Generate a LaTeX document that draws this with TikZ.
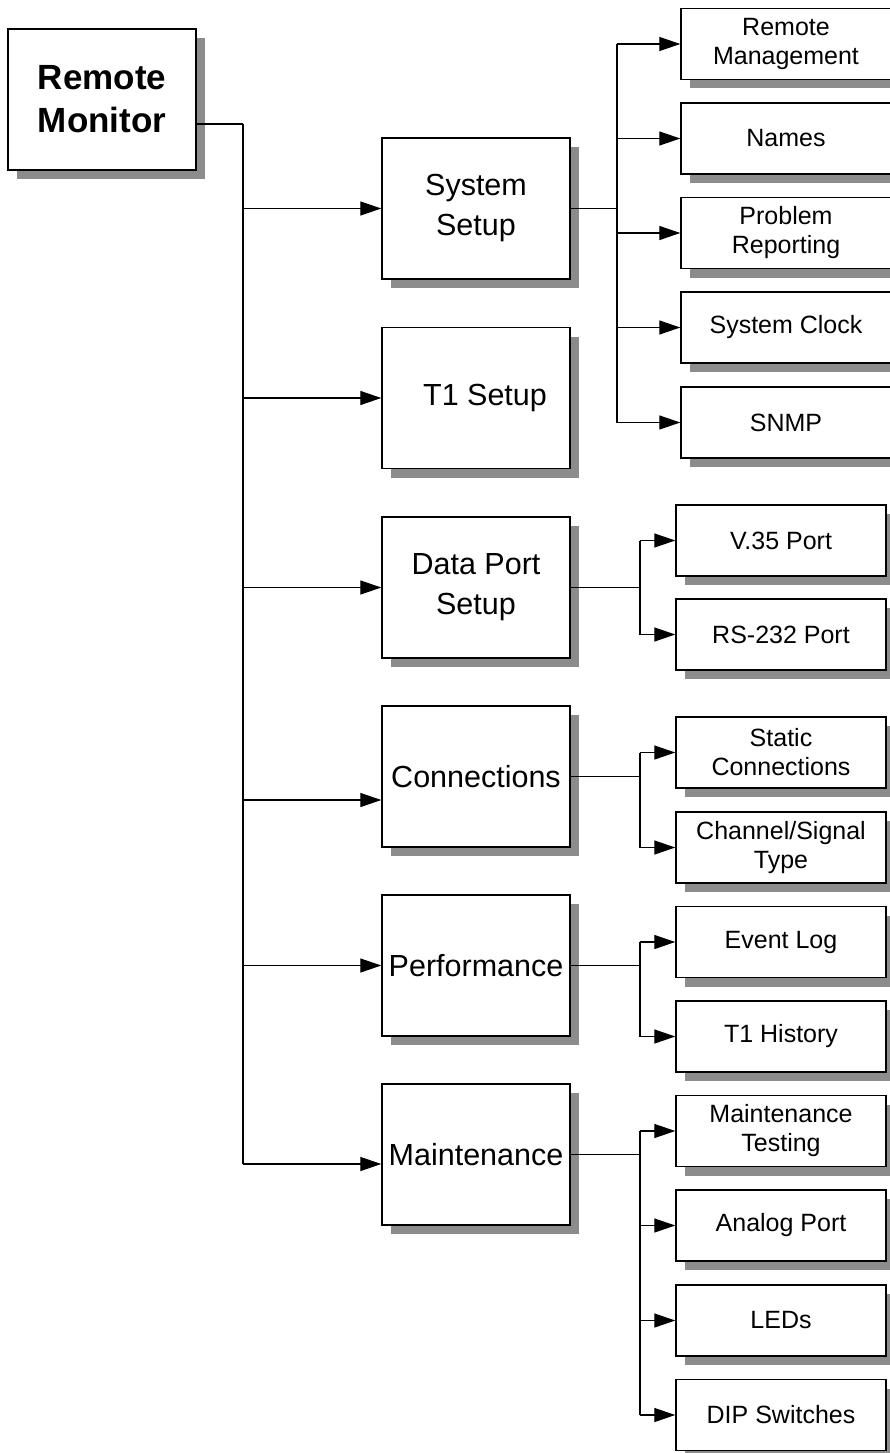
\documentclass[tikz,border=0pt]{standalone}
\usepackage{fontspec}
\setmainfont{Liberation Sans}
\usetikzlibrary{arrows.meta,shadows}
\definecolor{shgray}{RGB}{140,140,140}
\tikzset{
 box/.style={draw=black, line width=1.4pt, fill=white, inner sep=0pt, align=center,
   general shadow={fill=shgray, shadow xshift=9pt, shadow yshift=-9pt}},
 topbox/.style={box, minimum width=188pt, minimum height=141pt, font=\bfseries\fontsize{35}{43}\selectfont},
 midbox/.style={box, minimum width=188pt, minimum height=141pt, font=\fontsize{30.5}{40}\selectfont},
 subbox/.style={box, minimum width=210pt, minimum height=71pt, font=\fontsize{25}{29}\selectfont},
 trunk/.style={line width=2.8pt},
 conn/.style={line width=1.3pt},
 arr/.style={conn, -{Triangle[length=21pt 0 0,width=14pt 0 0]}},
}
\begin{document}
\begin{tikzpicture}[x=1pt,y=-1pt]
\useasboundingbox (0,0) rectangle (890,1453);
% top
\node[topbox] (rm) at (102,99.5) {Remote\\Monitor};
% middle level
\node[midbox] (ss) at (476,208.5) {System\\Setup};
\node[midbox] (t1) at (476,398) {\hspace*{18pt}T1 Setup};
\node[midbox] (dp) at (476,587.5) {Data Port\\Setup};
\node[midbox] (cn) at (476,776.5) {Connections};
\node[midbox] (pf) at (476,965.5) {Performance};
\node[midbox] (mt) at (476,1154.5) {Maintenance};
% system setup children
\node[subbox] (rmg) at (786,44) {Remote\\Management};
\node[subbox] (nm) at (786,138.5) {Names};
\node[subbox] (pr) at (786,233) {Problem\\Reporting};
\node[subbox] (sc) at (786,327.5) {System Clock};
\node[subbox] (sn) at (786,422.5) {SNMP};
% data port children
\node[subbox] (v35) at (781,540.5) {V.35 Port};
\node[subbox] (rs) at (781,634.5) {RS-232 Port};
% connections children
\node[subbox] (st) at (781,752.5) {Static\\Connections};
\node[subbox] (ch) at (781,847.5) {Channel/Signal\\Type};
% performance children
\node[subbox] (ev) at (781,942) {Event Log};
\node[subbox] (th) at (781,1036.5) {T1 History};
% maintenance children
\node[subbox] (mtt) at (781,1131) {Maintenance\\Testing};
\node[subbox] (an) at (781,1225.5) {Analog Port};
\node[subbox] (le) at (781,1320.5) {LEDs};
\node[subbox] (dip) at (781,1415) {DIP Switches};

% trunk
\coordinate (rmout) at ([yshift=-24.5pt]rm.east);
\coordinate (tk) at (243,124);
\coordinate (cnin) at ([yshift=-23.5pt]cn.west);
\coordinate (mtin) at ([yshift=-9.5pt]mt.west);
\draw[conn] (rmout) -- (tk);
\draw[trunk] (tk) -- (tk |- mtin);
\draw[arr] (tk |- ss.west) -- (ss.west);
\draw[arr] (tk |- t1.west) -- (t1.west);
\draw[arr] (tk |- dp.west) -- (dp.west);
\draw[arr] (tk |- cnin) -- (cnin);
\draw[arr] (tk |- pf.west) -- (pf.west);
\draw[arr] (tk |- mtin) -- (mtin);

% system setup branch
\coordinate (sb) at (617,0);
\draw[conn] (ss.east) -- (sb |- ss.east);
\draw[conn] (sb |- rmg.west) -- (sb |- sn.west);
\foreach \n in {rmg,nm,pr,sc,sn} \draw[arr] (sb |- \n.west) -- (\n.west);

% other branches
\coordinate (db) at (640,0);
\draw[conn] (dp.east) -- (db |- dp.east);
\draw[conn] (db |- v35.west) -- (db |- rs.west);
\foreach \n in {v35,rs} \draw[arr] (db |- \n.west) -- (\n.west);

\draw[conn] (cn.east) -- (db |- cn.east);
\draw[conn] (db |- st.west) -- (db |- ch.west);
\foreach \n in {st,ch} \draw[arr] (db |- \n.west) -- (\n.west);

\draw[conn] (pf.east) -- (db |- pf.east);
\draw[conn] (db |- ev.west) -- (db |- th.west);
\foreach \n in {ev,th} \draw[arr] (db |- \n.west) -- (\n.west);

\draw[conn] (mt.east) -- (db |- mt.east);
\draw[conn] (db |- mtt.west) -- (db |- dip.west);
\foreach \n in {mtt,an,le,dip} \draw[arr] (db |- \n.west) -- (\n.west);
\end{tikzpicture}
\end{document}
